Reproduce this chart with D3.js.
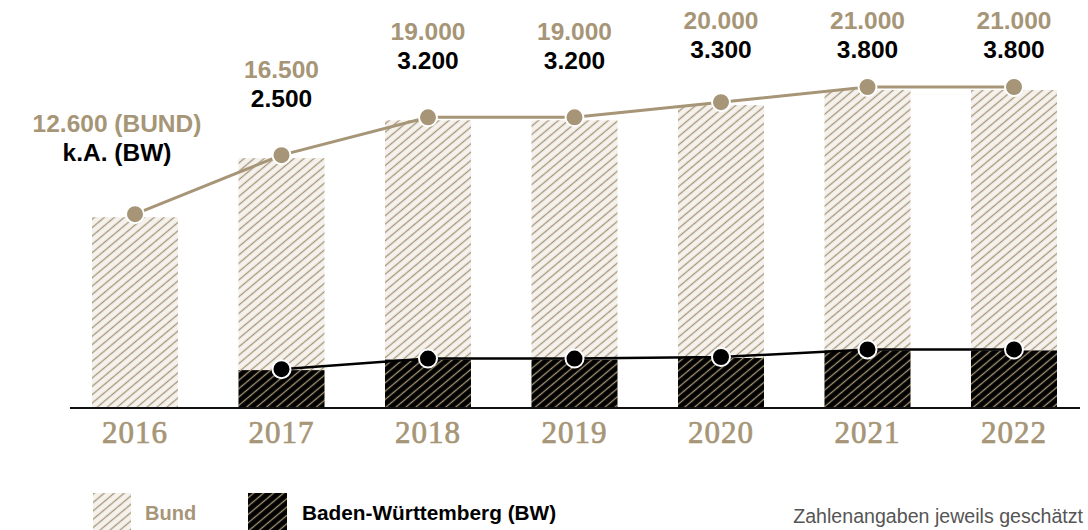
<!DOCTYPE html>
<html>
<head>
<meta charset="utf-8">
<script src="https://cdn.jsdelivr.net/npm/d3@7"></script>
<style>
  body { margin: 0; background: #fff; }
  svg { display: block; }
</style>
</head>
<body>
<svg id="chart" width="1088" height="530"></svg>
<script>
// values
var years = ["2016", "2017", "2018", "2019", "2020", "2021", "2022"];
var bund = [12600, 16500, 19000, 19000, 20000, 21000, 21000];
var bw = [null, 2500, 3200, 3200, 3300, 3800, 3800];
var bundLabels = ["12.600 (BUND)", "16.500", "19.000", "19.000", "20.000", "21.000", "21.000"];
var bwLabels = ["k.A. (BW)", "2.500", "3.200", "3.200", "3.300", "3.800", "3.800"];

var beige = "#a69576",
  baseY = 408;

var svg = d3.select("#chart");

var x = d3.scalePoint().domain(years).range([135, 1014]);
var y = d3.scaleLinear().domain([0, 21000]).range([baseY, 90]);
var barW = 86;

// rows joined up, so repeated values stay separate marks
var rows = years.map(function(d, i) {
  return {year: d, bund: bund[i], bw: bw[i], bl: bundLabels[i], wl: bwLabels[i], i: i};
});
var bwRows = rows.filter(function(r) { return r.bw != null; });

// hatch patterns
var defs = svg.append("defs");
function hatch(id, bg, line) {
  var p = defs.append("pattern")
    .attr("id", id)
    .attr("patternUnits", "userSpaceOnUse")
    .attr("width", 6).attr("height", 6.4)
    .attr("patternTransform", "rotate(-40)");
  p.append("rect").attr("width", 6).attr("height", 6.4).attr("fill", bg);
  p.append("line")
    .attr("x1", 0).attr("x2", 6).attr("y1", 3.2).attr("y2", 3.2)
    .attr("stroke", line).attr("stroke-width", 1.3);
}
hatch("hBund", "#f5f2ee", beige);
hatch("hBw", "#000", beige);

// bars
svg.append("g").selectAll("rect")
  .data(rows)
  .enter()
  .append("rect")
    .attr("x", function(d) { return x(d.year) - barW / 2; })
    .attr("y", function(d) { return y(d.bund); })
    .attr("width", barW)
    .attr("height", function(d) { return baseY - y(d.bund); })
    .attr("fill", "url(#hBund)");

svg.append("g").selectAll("rect")
  .data(bwRows)
  .enter()
  .append("rect")
    .attr("x", function(d) { return x(d.year) - barW / 2; })
    .attr("y", function(d) { return y(d.bw); })
    .attr("width", barW)
    .attr("height", function(d) { return baseY - y(d.bw); })
    .attr("fill", "url(#hBw)");

// baseline
svg.append("line")
  .attr("x1", 70).attr("x2", 1080)
  .attr("y1", baseY).attr("y2", baseY)
  .attr("stroke", "#111").attr("stroke-width", 2);

// year labels
svg.append("g").selectAll("text")
  .data(years)
  .enter()
  .append("text")
    .attr("x", function(d) { return x(d); })
    .attr("y", 443)
    .attr("text-anchor", "middle")
    .style("font-family", "'Liberation Serif', serif")
    .style("font-size", "31px")
    .style("letter-spacing", "1px")
    .style("fill", beige)
    .style("stroke", beige).style("stroke-width", 0.7)
    .text(function(d) { return d; });

// lines
var bundLine = d3.line()
  .x(function(d) { return x(d.year); })
  .y(function(d) { return y(d.bund) - 3; });
var bwLine = d3.line()
  .x(function(d) { return x(d.year); })
  .y(function(d) { return y(d.bw) - 1; });

svg.append("path").attr("d", bundLine(rows))
  .attr("fill", "none").attr("stroke", beige).attr("stroke-width", 3);
svg.append("path").attr("d", bwLine(bwRows))
  .attr("fill", "none").attr("stroke", "#000").attr("stroke-width", 2.5);

// dots
svg.append("g").selectAll("circle")
  .data(rows)
  .enter()
  .append("circle")
    .attr("cx", function(d) { return x(d.year); })
    .attr("cy", function(d) { return y(d.bund) - 3; })
    .attr("r", 9)
    .attr("fill", beige)
    .attr("stroke", "#fff").attr("stroke-width", 2);

svg.append("g").selectAll("circle")
  .data(bwRows)
  .enter()
  .append("circle")
    .attr("cx", function(d) { return x(d.year); })
    .attr("cy", function(d) { return y(d.bw) - 1; })
    .attr("r", 9)
    .attr("fill", "#000")
    .attr("stroke", "#fff").attr("stroke-width", 2);

// value labels above the points
var labelFont = "'Liberation Sans', Arial, sans-serif";
function labelY(d) { return Math.max(y(d.bund) - (d.i === 0 ? 85 : 80), 29); }
function labelX(d) { return x(d.year) - (d.i === 0 ? 18 : 0); }

var lab = svg.append("g").selectAll("g")
  .data(rows)
  .enter()
  .append("g");
lab.append("text")
  .attr("x", labelX)
  .attr("y", labelY)
  .attr("text-anchor", "middle")
  .style("font-family", labelFont).style("font-weight", "bold")
  .style("font-size", "24.5px").style("fill", beige)
  .text(function(d) { return d.bl; });
lab.append("text")
  .attr("x", labelX)
  .attr("y", function(d) { return labelY(d) + 29; })
  .attr("text-anchor", "middle")
  .style("font-family", labelFont).style("font-weight", "bold")
  .style("font-size", "24.5px").style("fill", "#000")
  .text(function(d) { return d.wl; });

// legend
var leg = svg.append("g");
leg.append("rect").attr("x", 93).attr("y", 493).attr("width", 38).attr("height", 40)
  .attr("fill", "url(#hBund)");
leg.append("text").attr("x", 145).attr("y", 520)
  .style("font-family", labelFont).style("font-weight", "bold")
  .style("font-size", "20px").style("fill", beige)
  .text("Bund");
leg.append("rect").attr("x", 248).attr("y", 493).attr("width", 39).attr("height", 40)
  .attr("fill", "url(#hBw)");
leg.append("text").attr("x", 302).attr("y", 520)
  .style("font-family", labelFont).style("font-weight", "bold")
  .style("font-size", "20.8px").style("fill", "#000")
  .text("Baden-Württemberg (BW)");
leg.append("text").attr("x", 1083).attr("y", 523)
  .attr("text-anchor", "end")
  .style("font-family", labelFont)
  .style("font-size", "19.6px").style("fill", "#555")
  .text("Zahlenangaben jeweils geschätzt");
</script>
</body>
</html>
